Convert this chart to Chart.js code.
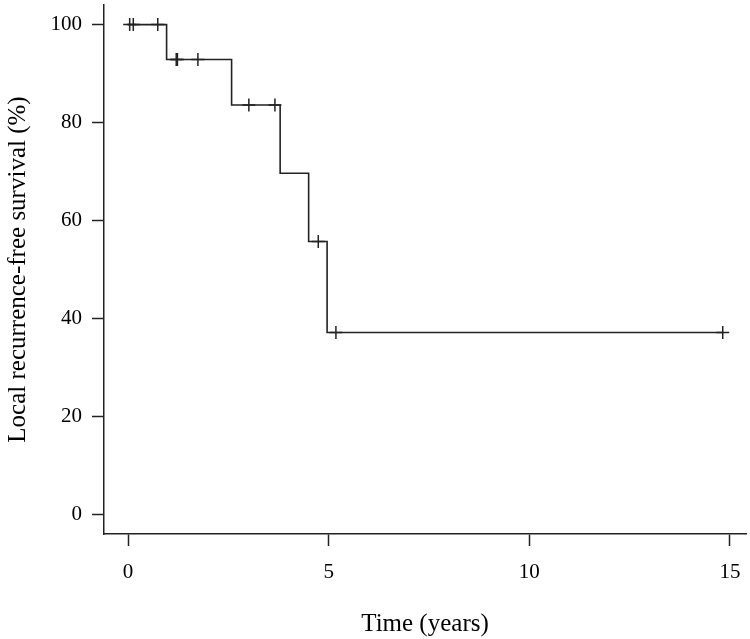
<!DOCTYPE html>
<html lang="en">
<head>
<meta charset="UTF-8">
<title>Local recurrence-free survival</title>
<script src="https://cdn.jsdelivr.net/npm/chart.js"></script>
<style>
  body { margin: 0; background: #fff; }
</style>
</head>
<body>
<canvas id="km" width="750" height="639"></canvas>

<script>
  // Kaplan-Meier steps (time in years, survival in %)
  const stepTimes = [0, 0.96, 2.58, 3.79, 4.50, 4.96, 14.82];
  const stepSurvival = [100, 92.86, 83.57, 69.64, 55.71, 37.14, 37.14];

  // censored observations (+ marks)
  const censorTimes = [0.04, 0.13, 0.74, 1.20, 1.23, 1.74, 3.01, 3.66, 4.74, 5.18, 14.82];
  const censorSurvival = [100, 100, 100, 92.86, 92.86, 92.86, 83.57, 83.57, 55.71, 37.14, 37.14];

  const xTicks = [0, 5, 10, 15];
  const yTicks = [0, 20, 40, 60, 80, 100];

  const ink = '#222';
  const serif = 'Liberation Serif';

  const curve = stepTimes.map((t, i) => ({ x: t, y: stepSurvival[i] }));
  const censored = censorTimes.map((t, i) => ({ x: t, y: censorSurvival[i] }));

  new Chart(document.getElementById('km'), {
    type: 'scatter',
    data: {
      datasets: [
        {
          data: curve,
          showLine: true,
          stepped: true,
          borderColor: ink,
          borderWidth: 1.6,
          pointRadius: 0,
          fill: false
        },
        {
          data: censored,
          showLine: false,
          pointStyle: 'cross',
          pointRadius: 6.5,
          borderColor: ink,
          borderWidth: 1.5
        }
      ]
    },
    options: {
      responsive: false,
      animation: false,
      layout: { autoPadding: false, padding: { top: 5, right: 4, left: 0, bottom: 0 } },
      plugins: { legend: { display: false }, tooltip: { enabled: false } },
      scales: {
        x: {
          type: 'linear',
          min: -0.6,
          max: 15.4,
          afterBuildTicks: axis => { axis.ticks = xTicks.map(v => ({ value: v })); },
          afterFit: axis => {
            axis.height = 105;
            axis.paddingLeft = 0;
            axis.paddingRight = 0;
          },
          grid: { drawOnChartArea: false, drawTicks: true, tickLength: 12, tickColor: ink, tickWidth: 1.5 },
          border: { display: true, color: ink, width: 1.5 },
          ticks: { color: '#000', font: { family: serif, size: 21 }, padding: 14, maxRotation: 0 },
          title: {
            display: true,
            text: 'Time (years)',
            color: '#000',
            font: { family: serif, size: 25 },
            padding: { top: 1, bottom: 0 }
          }
        },
        y: {
          type: 'linear',
          min: -4,
          max: 104,
          afterBuildTicks: axis => { axis.ticks = yTicks.map(v => ({ value: v })); },
          afterFit: axis => {
            axis.width = 104;
            axis.paddingTop = 0;
            axis.paddingBottom = 0;
          },
          grid: { drawOnChartArea: false, drawTicks: true, tickLength: 12, tickColor: ink, tickWidth: 1.5 },
          border: { display: true, color: ink, width: 1.5 },
          ticks: { color: '#000', font: { family: serif, size: 21 }, padding: 10 },
          title: {
            display: true,
            text: 'Local recurrence-free survival (%)',
            color: '#000',
            font: { family: serif, size: 25 },
            padding: { top: 3, bottom: 0 }
          }
        }
      }
    }
  });
</script>
</body>
</html>
